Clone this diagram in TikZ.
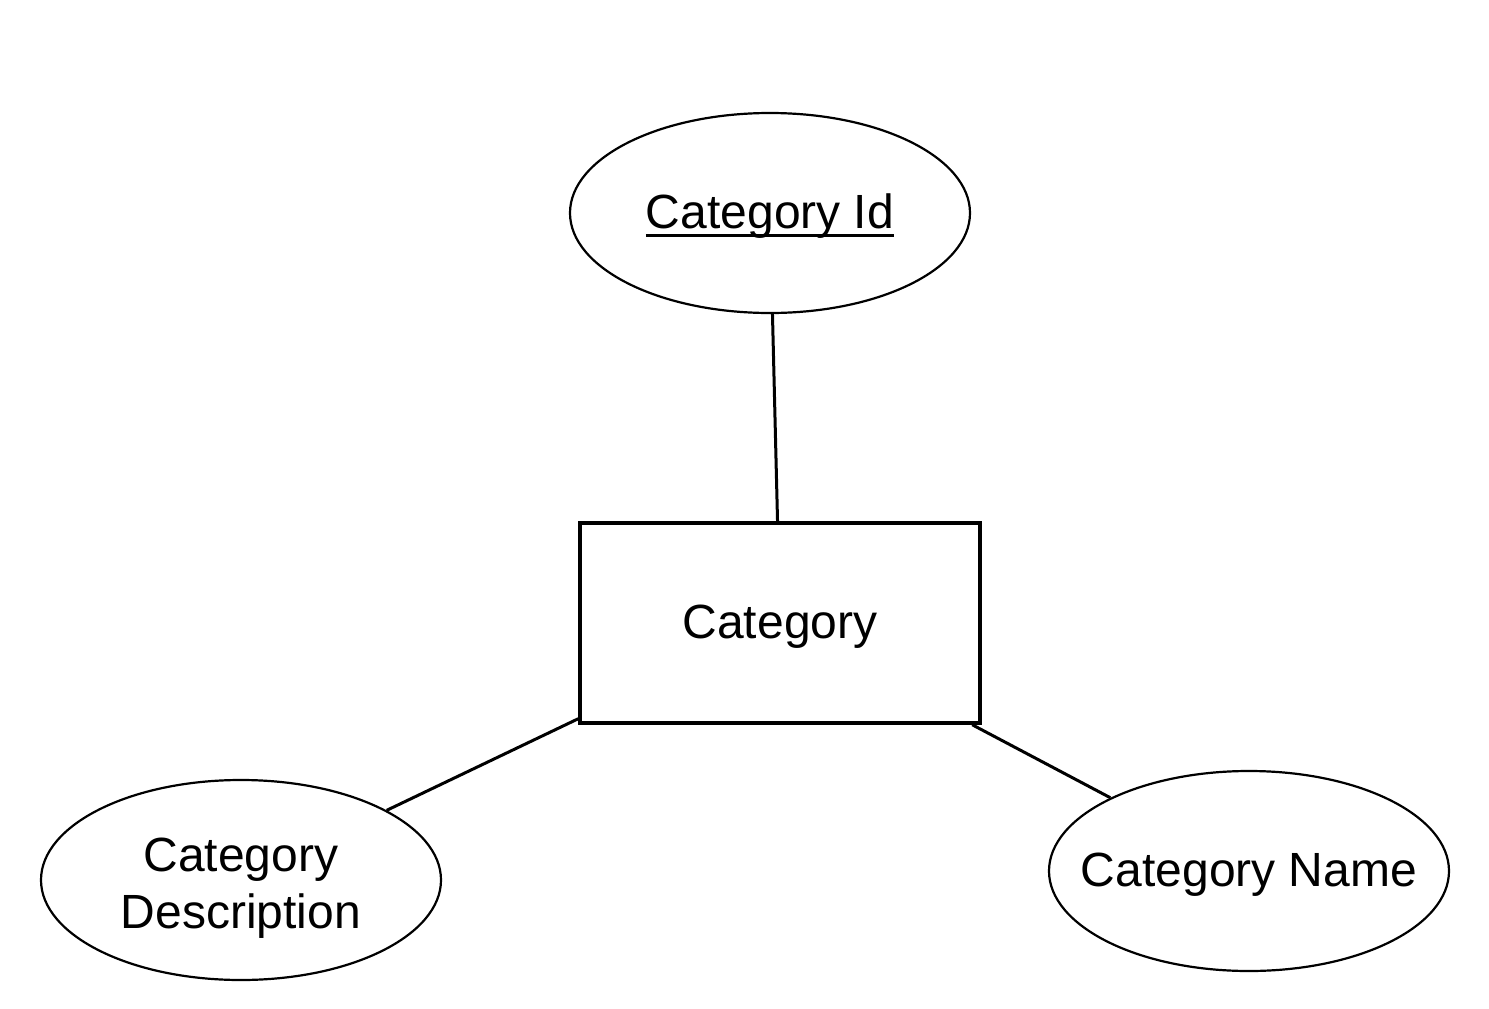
\documentclass[tikz,border=0pt]{standalone}
\usepackage{fontspec}
\setmainfont{Liberation Sans}
\usetikzlibrary{shapes.geometric}
\newcommand\myul[1]{\setbox0\hbox{#1}\hbox{\rlap{\copy0}\rule[-9pt]{\wd0}{3pt}}}
\tikzset{
  txt/.style={font=\fontsize{48}{56}\selectfont},
  attr/.style={ellipse,draw,line width=2.2pt,minimum width=400pt,minimum height=200pt,inner sep=0pt,align=center,txt,text height=35pt,text depth=5pt},
  entity/.style={rectangle,draw,line width=3.5pt,minimum width=400pt,minimum height=200pt,inner sep=0pt,txt,text height=35pt,text depth=5pt},
  conn/.style={line width=3pt}
}
\begin{document}
\begin{tikzpicture}[x=1pt,y=-1pt]
\useasboundingbox (0,0) rectangle (1489,1009);
\fill[white] (0,0) rectangle (1489,1009);
\node[attr] (id) at (770,213) {\makebox[0pt]{\myul{Category Id}}};
\node[entity] (cat) at (780,623) {Category};
\node[attr] (desc) at (241,880) {};
\node[txt,align=center,inner sep=0pt] (desctext) at (241,888) {Category\\[1pt]Description};
\node[attr] (name) at (1249,871) {\makebox[0pt]{Category Name}};
\draw[conn] (id) -- (cat);
\draw[conn] (desc) -- (cat);
\draw[conn] (name) -- (cat);
\end{tikzpicture}
\end{document}
